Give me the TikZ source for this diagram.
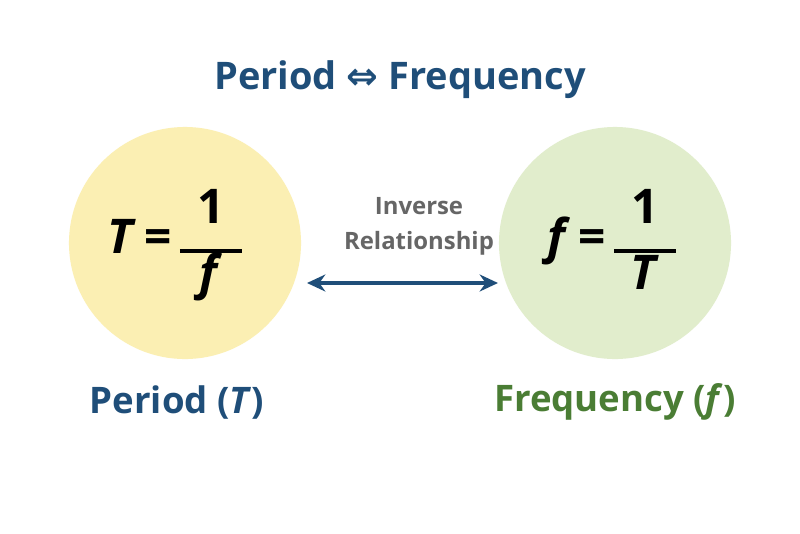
\documentclass[tikz,border=0pt]{standalone}
\usepackage{fontspec}
\setmainfont{Open Sans}
\newfontfamily\symfont{DejaVu Sans}
\usetikzlibrary{arrows.meta}
\definecolor{titleblue}{HTML}{1F4E79}
\definecolor{periodfill}{HTML}{FBEFB3}
\definecolor{freqfill}{HTML}{E1EDCC}
\definecolor{freqgreen}{HTML}{4A7D34}
\definecolor{relgray}{HTML}{666666}
\tikzset{
  disc/.style={circle, minimum size=5.8cm, inner sep=0pt},
  formula/.style={font=\fontsize{34}{40}\selectfont\bfseries},
  caption/.style={font=\fontsize{26}{30}\selectfont\bfseries},
}
\newcommand{\fr}[2]{\begin{tabular}{@{}c@{}}#1\\[-19pt]\rule{1.3em}{2.5pt}\\[-14pt]#2\end{tabular}}
\begin{document}
\begin{tikzpicture}[x=0.025cm,y=-0.025cm]
    \useasboundingbox[fill=white] (0,0) rectangle (800,533);
        %Title
    \node[text=titleblue, font=\fontsize{27}{32}\selectfont\bfseries] (title) at (400,80) {Period {\symfont ⇔} Frequency};
        %Circles
    \node[disc, fill=periodfill] (period) at (185,243) {};
    \node[disc, fill=freqfill] (freq) at (615,243) {};
    \node[formula] (pform) at (175,245) {\textit{T}\,=\,\fr{1}{\textit{f}}};
    \node[formula] (fform) at (612,245) {\textit{f}\,=\,\fr{1}{\textit{T}}};
        %Relation
    \node[text=relgray, font=\fontsize{17}{25}\selectfont\bfseries, align=center] (rel) at (419,226) {Inverse\\Relationship};
    \coordinate (a) at (307,283);
    \coordinate (b) at (498,283);
    \draw[titleblue, line width=2.6pt, {Stealth[length=13pt,width=12pt]}-{Stealth[length=13pt,width=12pt]}] (a) -- (b);
        %Labels
    \node[caption, text=titleblue] (plabel) at (177,402) {Period (\textit{T})};
    \node[caption, text=freqgreen] (flabel) at (615,402) {Frequency (\textit{f})};
\end{tikzpicture}
\end{document}
